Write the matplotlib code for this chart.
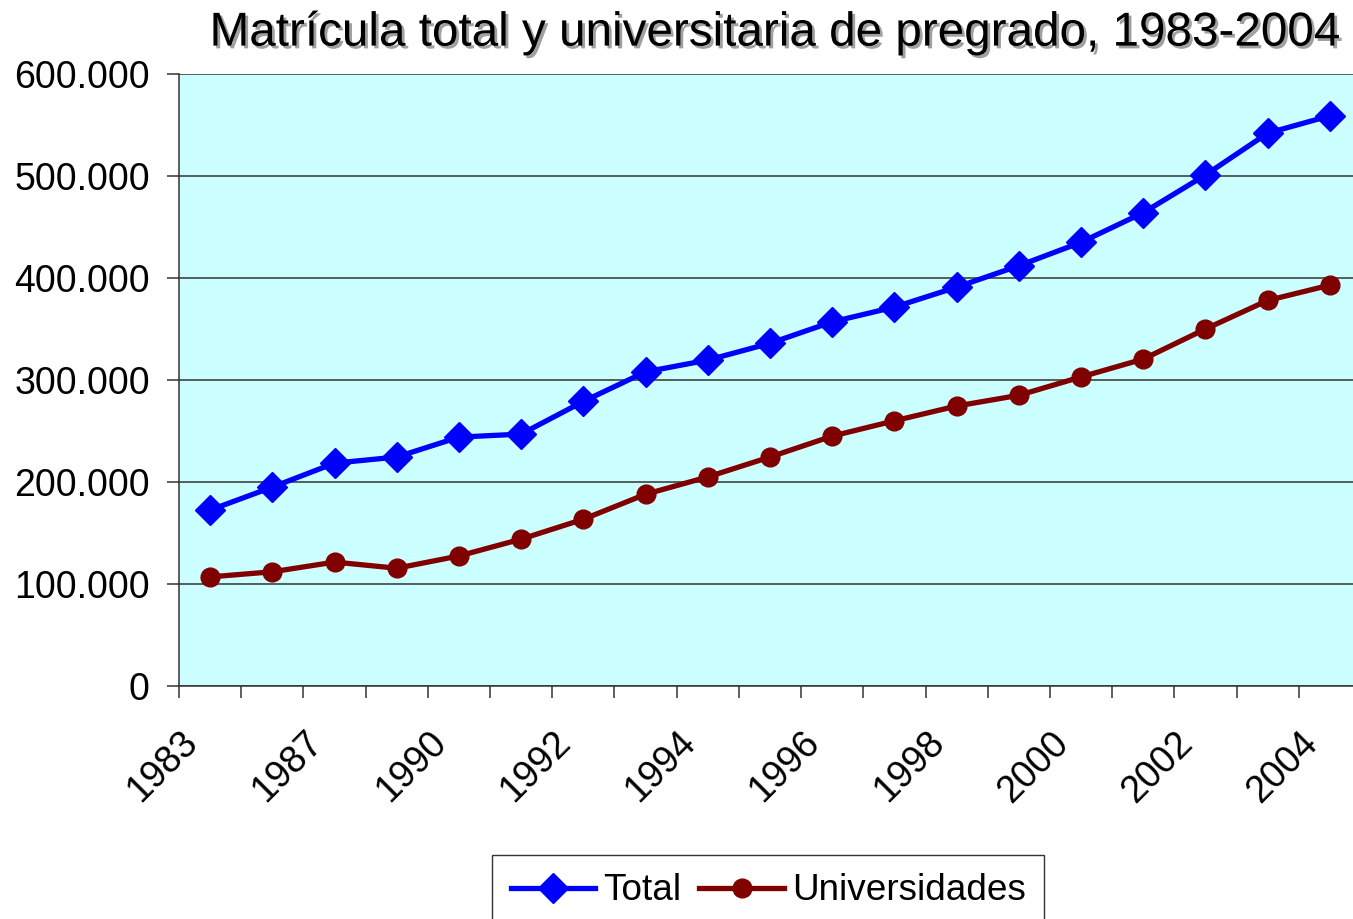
import numpy as np
import matplotlib
matplotlib.use("Agg")
import matplotlib.pyplot as plt
import matplotlib.patheffects as pe
from matplotlib.ticker import FuncFormatter, FixedLocator
from matplotlib.transforms import ScaledTranslation

plt.rcParams['font.family'] = ['Liberation Sans', 'DejaVu Sans']

years = ['1983', '1985', '1987', '1989', '1990', '1991', '1992', '1993', '1994', '1995',
         '1996', '1997', '1998', '1999', '2000', '2001', '2002', '2003', '2004']
total = [172500, 195000, 218500, 224500, 244000, 247000, 279000, 308000, 319500, 336000,
         357000, 371500, 391000, 412000, 435000, 464000, 501000, 542000, 559000]
universidades = [107000, 112000, 121500, 115500, 127500, 144000, 163500, 188000, 205000, 224500,
                 245000, 260000, 274500, 285000, 303000, 320500, 350000, 378000, 393000]

fig = plt.figure(figsize=(13.53, 9.19), dpi=100)
ax = fig.add_axes([0.1323, 0.2535, 0.8736, 0.666])
ax.set_facecolor('#CCFFFF')

x = np.arange(len(years))
ax.plot(x, total, color='#0000FF', lw=3.8, marker='D', ms=15, label='Total', zorder=3)
ax.plot(x, universidades, color='#800000', lw=3.8, marker='o', ms=13.5, label='Universidades', zorder=3)

ax.set_xlim(-0.5, len(years) - 0.5)
ax.set_ylim(0, 600000)
ax.set_yticks(np.arange(0, 600001, 100000))
ax.yaxis.set_major_formatter(FuncFormatter(lambda v, p: f'{int(v):,}'.replace(',', '.')))
ax.grid(axis='y', color='#333333', lw=1.1)
ax.set_axisbelow(True)

for s in ['top', 'right']:
    ax.spines[s].set_visible(False)
for s in ['left', 'bottom']:
    ax.spines[s].set_color('#333333')
    ax.spines[s].set_linewidth(1.1)

# category boundaries get the tick marks, labels every other year
ax.xaxis.set_minor_locator(FixedLocator(np.arange(-0.5, len(years), 1)))
ax.set_xticks(x[::2])
ax.set_xticklabels(years[::2], rotation=45, ha='right', va='center', rotation_mode='anchor')
ax.tick_params(axis='x', which='major', length=0, pad=37, labelsize=27)
ax.tick_params(axis='x', which='minor', length=8.5, width=1.1, color='#333333', direction='out')
ax.tick_params(axis='y', length=9, width=1.1, color='#333333', labelsize=27, pad=12)
off = ScaledTranslation(-18 / 100, 0, fig.dpi_scale_trans)
for lbl in ax.get_xticklabels():
    lbl.set_transform(lbl.get_transform() + off)

fig.text(0.5728, 0.989, 'Matrícula total y universitaria de pregrado, 1983-2004',
         ha='center', va='top', fontsize=34.3,
         path_effects=[pe.withSimplePatchShadow(offset=(2, -2), shadow_rgbFace='#888888', alpha=0.8)])

leg = fig.legend(loc='upper center', bbox_to_anchor=(0.5677, 1 - 855 / 919), ncol=2,
                 fontsize=26.6, frameon=True, fancybox=False, edgecolor='black',
                 handlelength=2.3, handletextpad=0.2, columnspacing=0.5,
                 borderpad=0.5, borderaxespad=0)
leg.get_frame().set_linewidth(1.0)

fig.savefig('out.png', dpi=100)
